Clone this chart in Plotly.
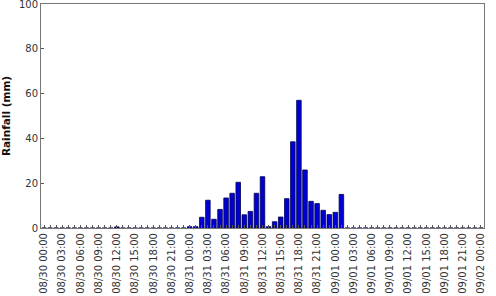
import plotly.graph_objects as go

days = ["08/30", "08/31", "09/01", "09/02"]
hours = list(range(24))
categories = [f"{d} {h:02d}:00" for d in days[:3] for h in hours] + ["09/02 00:00"]

rainfall = [
    # 08/30 00..23
    0, 0, 0, 0, 0, 0, 0, 0, 0, 0, 0, 0, 0.5, 0, 0, 0, 0, 0, 0, 0, 0, 0, 0, 0,
    # 08/31 00..23
    0.6, 0.6, 4.8, 12.4, 3.9, 8.3, 13.4, 15.5, 20.4, 5.9, 7.4, 15.5,
    22.9, 0.6, 2.8, 4.9, 13.1, 38.5, 57.0, 25.9, 11.9, 10.9, 7.9, 6.0,
    # 09/01 00..23
    7.0, 15.0, 0, 0, 0, 0, 0, 0, 0, 0, 0, 0, 0, 0, 0, 0, 0, 0, 0, 0, 0, 0, 0, 0,
    # 09/02 00
    0,
]

y_ticks = [0, 20, 40, 60, 80, 100]

tick_text = [c if i % 3 == 0 else "" for i, c in enumerate(categories)]

fig = go.Figure(go.Bar(
    x=categories, y=rainfall,
    marker=dict(color="#0000D4", line=dict(color="#000050", width=0.8)),
))

fig.update_layout(
    width=496, height=296,
    margin=dict(l=41, r=12, t=4, b=68),
    paper_bgcolor="white", plot_bgcolor="white",
    bargap=0.25, showlegend=False,
    font=dict(family="DejaVu Sans", size=10, color="#333"),
)
fig.update_xaxes(
    type="category", tickmode="array", tickvals=categories, ticktext=tick_text,
    tickangle=-90, ticks="inside", ticklen=3, tickcolor="#555",
    showline=True, linecolor="#777", linewidth=1, mirror=True,
    showgrid=False, tickfont=dict(size=10, color="#333"),
    range=[-0.5, len(categories) - 0.5], ticklabeloverflow="allow",
    automargin=False,
)
fig.update_yaxes(
    range=[0, 100], tickmode="array", tickvals=y_ticks,
    ticks="inside", ticklen=3, tickcolor="#555",
    showline=True, linecolor="#777", linewidth=1, mirror=True,
    showgrid=False, zeroline=False, tickfont=dict(size=10, color="#333"),
    ticklabeloverflow="allow", automargin=False,
    title=dict(text="<b>Rainfall (mm)</b>", font=dict(size=10.5, color="#111"), standoff=10),
)

fig.write_html("out.html")
